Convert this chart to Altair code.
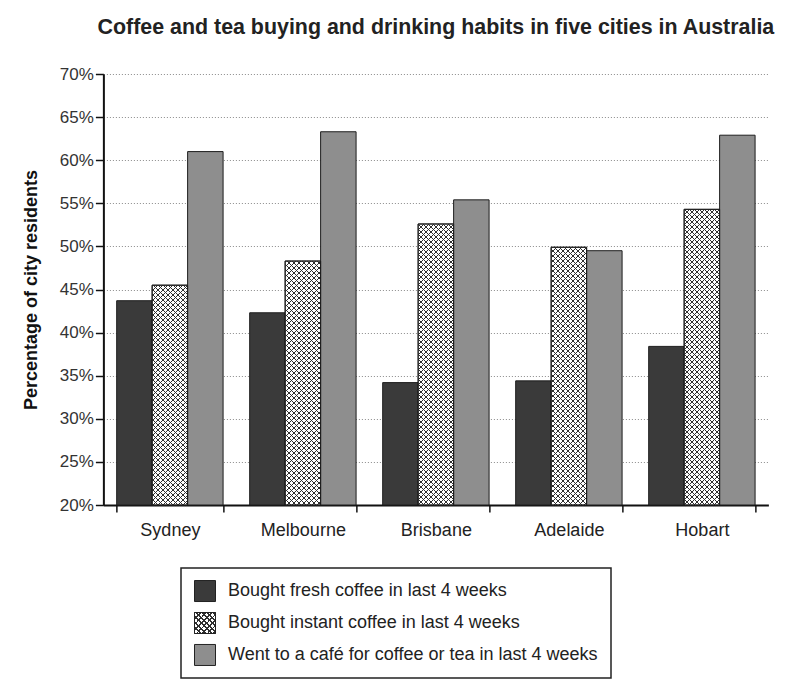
import math
import altair as alt
import pandas as pd

# ---------------- data ----------------
cities = ["Sydney", "Melbourne", "Brisbane", "Adelaide", "Hobart"]
series = [
    "Bought fresh coffee in last 4 weeks",
    "Bought instant coffee in last 4 weeks",
    "Went to a café for coffee or tea in last 4 weeks",
]
fresh = [43.7, 42.3, 34.2, 34.4, 38.4]
instant = [45.5, 48.3, 52.6, 49.9, 54.3]
cafe = [61.0, 63.3, 55.4, 49.5, 62.9]
y_ticks = [20, 25, 30, 35, 40, 45, 50, 55, 60, 65, 70]

title_text = "Coffee and tea buying and drinking habits in five cities in Australia"
y_title = "Percentage of city residents"

rows = []
for i, c in enumerate(cities):
    for s, vals in zip(series, [fresh, instant, cafe]):
        rows.append({"city": c, "series": s, "value": vals[i]})
df = pd.DataFrame(rows)

# ---------------- layout / style ----------------
FONT = "Liberation Sans"
W, H = 665, 431
Y0, Y1 = y_ticks[0], y_ticks[-1]
PAD_IN, PAD_OUT = 0.2, 0.1
colors = ["#3a3a3a", "#ffffff", "#8e8e8e"]
HATCH = "#2e2e2e"


def hatch(w, h, direction, period=5.0, frac=0.3):
    """Linear gradient giving 45-degree stripes on a w x h box."""
    L = w + h
    k = L / (w * w + h * h)
    gx, gy = w * k, h * k
    if direction == 1:
        x1, y1, x2, y2 = 0, 0, gx, gy
    else:
        x1, y1, x2, y2 = 0, 1, gx, 1 - gy
    dt = period / L
    stops = []
    kk = 0
    while kk * dt < 1:
        a = kk * dt
        b = min(a + frac * dt, 1)
        c = min((kk + 1) * dt, 1)
        stops += [
            alt.GradientStop(offset=a, color=HATCH),
            alt.GradientStop(offset=b, color=HATCH),
            alt.GradientStop(offset=b, color="rgba(255,255,255,0)"),
            alt.GradientStop(offset=c, color="rgba(255,255,255,0)"),
        ]
        kk += 1
    return alt.LinearGradient(gradient="linear", stops=stops, x1=x1, y1=y1, x2=x2, y2=y2)


color_scale = alt.Scale(domain=series, range=colors)

xenc = alt.X(
    "city:N",
    sort=cities,
    scale=alt.Scale(paddingInner=PAD_IN, paddingOuter=PAD_OUT),
    axis=alt.Axis(
        title=None, labelAngle=0, tickBand="extent", grid=False,
        domainColor="#111", domainWidth=2, tickColor="#111", tickWidth=1.5, tickSize=7,
        labelFont=FONT, labelFontSize=18, labelColor="#222", labelPadding=9,
    ),
)
xoff = alt.XOffset("series:N", sort=series, scale=alt.Scale(domain=series))
yenc = alt.Y(
    "value:Q",
    scale=alt.Scale(domain=[Y0, Y1], nice=False, zero=False),
    axis=alt.Axis(
        values=y_ticks, labelExpr="datum.value + '%'", title=y_title,
        grid=True, gridColor="#8a8a8a", gridDash=[1, 2], gridWidth=1,
        domainColor="#111", domainWidth=2, tickColor="#111", tickWidth=1.5, tickSize=8,
        labelFont=FONT, labelFontSize=17, labelColor="#333", labelPadding=2,
        titleFont=FONT, titleFontSize=18, titleFontWeight="bold", titleColor="#111",
        titlePadding=19,
    ),
)
y2enc = alt.datum(Y0)

base = alt.Chart(df).mark_bar(stroke="#1e1e1e", strokeWidth=1).encode(
    x=xenc, xOffset=xoff, y=yenc, y2=y2enc,
    fill=alt.Fill("series:N", scale=color_scale, legend=None),
)

step = W / (len(cities) - PAD_IN + 2 * PAD_OUT)
bar_w = step * (1 - PAD_IN) / len(series)
layers = [base]
for i, c in enumerate(cities):
    h = (instant[i] - Y0) * H / (Y1 - Y0)
    for d in (1, -1):
        layers.append(
            alt.Chart(df)
            .transform_filter(f"datum.city === '{c}' && datum.series === '{series[1]}'")
            .mark_bar(fill=hatch(bar_w, h, d), strokeWidth=0)
            .encode(x=xenc, xOffset=xoff, y=yenc, y2=y2enc)
        )
layers.append(
    alt.Chart(df)
    .transform_filter(f"datum.series === '{series[1]}'")
    .mark_bar(fillOpacity=0, stroke="#1e1e1e", strokeWidth=1)
    .encode(x=xenc, xOffset=xoff, y=yenc, y2=y2enc)
)

top = alt.layer(*layers).properties(
    width=W, height=H,
    title=alt.TitleParams(
        title_text, font=FONT, fontSize=21.4, fontWeight="bold", color="#222",
        anchor="middle", frame="group", offset=27,
    ),
)

# ---------------- legend ----------------
leg_df = pd.DataFrame({"series": series})
SW = 21
LEG_W, LEG_H = 430, 110
ly = alt.Y("series:N", sort=series, scale=alt.Scale(domain=series, type="point", padding=0.72), axis=None)
leg_layers = [
    alt.Chart(leg_df).mark_square(size=SW * SW, stroke="#222", strokeWidth=1, opacity=1).encode(
        x=alt.value(24), y=ly, fill=alt.Fill("series:N", scale=color_scale, legend=None)
    )
]
for d in (1, -1):
    leg_layers.append(
        alt.Chart(leg_df)
        .transform_filter(f"datum.series === '{series[1]}'")
        .mark_square(size=SW * SW, fill=hatch(SW, SW, d, period=5.5), strokeWidth=0, opacity=1)
        .encode(x=alt.value(24), y=ly)
    )
leg_layers.append(
    alt.Chart(leg_df)
    .transform_filter(f"datum.series === '{series[1]}'")
    .mark_square(size=SW * SW, fillOpacity=0, stroke="#222", strokeWidth=1)
    .encode(x=alt.value(24), y=ly)
)
leg_layers.append(
    alt.Chart(leg_df).mark_text(align="left", baseline="middle", font=FONT, fontSize=18, color="#222").encode(
        x=alt.value(47), y=ly, text="series:N"
    )
)
legend = alt.layer(*leg_layers).properties(
    width=LEG_W, height=LEG_H, view=alt.ViewBackground(stroke="#222", strokeWidth=1.5)
)
spacer = alt.Chart(leg_df).mark_point(opacity=0).properties(width=85, height=LEG_H)
legend_row = alt.hconcat(legend, spacer, spacing=0)

chart = (
    alt.vconcat(top, legend_row, center=True, spacing=28)
    .properties(padding={"left": 22, "top": 16, "right": 5, "bottom": 5}, background="white")
    .configure_view(stroke=None)
)

chart.save("out.html", embed_options={"renderer": "svg", "actions": False})
